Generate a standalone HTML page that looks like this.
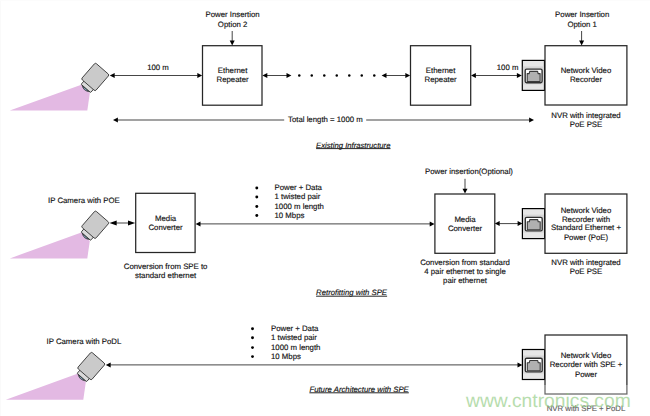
<!DOCTYPE html>
<html>
<head>
<meta charset="utf-8">
<title>SPE Architecture</title>
<style>
html,body{margin:0;padding:0;background:#fff;}
body{width:650px;height:416px;overflow:hidden;}
svg{display:block;}
text{font-family:"Liberation Sans",sans-serif;font-size:7.8px;fill:#121212;stroke:#121212;stroke-width:0.15px;text-rendering:geometricPrecision;}
.c{text-anchor:middle;}
.t{font-style:italic;font-size:7.7px;}
.ul{stroke:#1a1a1a;stroke-width:0.95;}
.box{fill:#fff;stroke:#262626;stroke-width:1.25;}
.ln{stroke:#3c3c3c;stroke-width:0.95;fill:none;}
.ah{fill:#000;}
.wm{font-size:19.25px;fill:#8cc97c;opacity:0.62;stroke:none;}
</style>
</head>
<body>
<svg width="650" height="416" viewBox="0 0 650 416">
<defs>
  <g id="cam">
    <polygon points="-99.5,35.4 -22,35.4 -19.5,18 -28,9.5" fill="#e3b9e3"/>
    <g transform="translate(0,-0.3) rotate(41)">
      <path d="M-14.2,25.4 Q-8.8,29.6 -3.4,25.4 Z" fill="#3c4a52" stroke="#2a2a2a" stroke-width="0.5"/>
      <path d="M-11.6,26 Q-8.8,27.8 -6,26 Z" fill="#8fb8cc"/>
      <rect x="-15.1" y="20" width="12.6" height="5.6" rx="0.7" fill="#dadada" stroke="#2a2a2a" stroke-width="0.8"/>
      <rect x="-18.5" y="0" width="18.5" height="21.5" rx="1.5" fill="#cacaca" stroke="#333" stroke-width="0.85"/>
    </g>
  </g>
  <g id="port">
    <rect x="0" y="0" width="22.2" height="30" fill="#e6e6e6" stroke="#000" stroke-width="1.2"/>
    <rect x="0.6" y="6" width="21" height="18" fill="#d6d6d6"/>
    <rect x="2.9" y="8.7" width="16.9" height="13.6" rx="1.4" fill="#fff" stroke="#2e2e2e" stroke-width="1.35"/>
    <path d="M4.9,21.2 V13.2 H6.9 L7.4,11 H15.3 L15.8,13.2 H17.8 V21.2 Z" fill="#b0b0b0" stroke="#3a3a3a" stroke-width="1.1" stroke-linejoin="round"/>
  </g>
</defs>
<rect x="0" y="0" width="1" height="416" fill="#fafafa"/><rect x="0" y="0" width="650" height="1" fill="#fcfcfc"/>
<!-- Existing infrastructure -->
<use href="#cam" x="109.3" y="75.2"/>
<line class="ln" x1="114.20" y1="75.5" x2="197.80" y2="75.5"/>
<polygon class="ah" points="109.8,75.5 114.70,73.00 114.70,78.00"/>
<polygon class="ah" points="202.2,75.5 197.30,73.00 197.30,78.00"/>
<text class="c" x="158" y="70">100 m</text>
<rect class="box" x="202.5" y="45.7" width="59.5" height="59.5"/>
<text class="c" x="232.6" y="72.6">Ethernet</text>
<text class="c" x="232.6" y="81.8">Repeater</text>
<text class="c" x="232.6" y="17.4">Power Insertion</text>
<text class="c" x="232.6" y="27">Option 2</text>
<line class="ln" x1="232.2" y1="31" x2="232.2" y2="41.00"/>
<polygon class="ah" points="232.2,45.4 229.70,40.50 234.70,40.50"/>
<line class="ln" x1="266.80" y1="75.5" x2="287.00" y2="75.5"/>
<polygon class="ah" points="262.4,75.5 267.30,73.00 267.30,78.00"/>
<polygon class="ah" points="291.4,75.5 286.50,73.00 286.50,78.00"/>
<g fill="#000"><circle cx="299.25" cy="75.5" r="1.25"/><circle cx="311.75" cy="75.5" r="1.25"/><circle cx="324.25" cy="75.5" r="1.25"/><circle cx="336.75" cy="75.5" r="1.25"/><circle cx="349.25" cy="75.5" r="1.25"/><circle cx="361.75" cy="75.5" r="1.25"/><circle cx="374.25" cy="75.5" r="1.25"/></g>
<line class="ln" x1="386.00" y1="75.5" x2="405.80" y2="75.5"/>
<polygon class="ah" points="381.6,75.5 386.50,73.00 386.50,78.00"/>
<polygon class="ah" points="410.2,75.5 405.30,73.00 405.30,78.00"/>
<rect class="box" x="410.5" y="45.7" width="60.2" height="59.5"/>
<text class="c" x="440.6" y="72.6">Ethernet</text>
<text class="c" x="440.6" y="81.8">Repeater</text>
<line class="ln" x1="475.40" y1="75.5" x2="517.40" y2="75.5"/>
<polygon class="ah" points="471,75.5 475.90,73.00 475.90,78.00"/>
<polygon class="ah" points="521.8,75.5 516.90,73.00 516.90,78.00"/>
<text class="c" x="507.6" y="70">100 m</text>
<use href="#port" x="522.3" y="60.4"/>
<rect class="box" x="545" y="45.7" width="81.9" height="59.3"/>
<text class="c" x="586" y="72.6">Network Video</text>
<text class="c" x="586" y="81.8">Recorder</text>
<text class="c" x="582.2" y="17.4">Power Insertion</text>
<text class="c" x="582.2" y="27">Option 1</text>
<line class="ln" x1="581.6" y1="31" x2="581.6" y2="41.00"/>
<polygon class="ah" points="581.6,45.4 579.10,40.50 584.10,40.50"/>
<text class="c" x="586" y="117.9">NVR with integrated</text>
<text class="c" x="586" y="127">PoE PSE</text>
<line class="ln" x1="117.40" y1="120.0" x2="284.20" y2="120.0"/>
<polygon class="ah" points="113,120.0 117.90,117.50 117.90,122.50"/>
<line class="ln" x1="366.20" y1="120.0" x2="529.60" y2="120.0"/>
<polygon class="ah" points="534,120.0 529.10,117.50 529.10,122.50"/>
<text x="288" y="122">Total length = 1000 m</text>
<text class="t" x="316.1" y="148.1">Existing Infrastructure</text>
<line class="ul" x1="316.1" y1="148.60" x2="390.50" y2="148.60"/>
<!-- Retrofitting with SPE -->
<text x="48" y="203">IP Camera with POE</text>
<use href="#cam" x="109.3" y="223"/>
<line class="ln" x1="116.20" y1="223.0" x2="128.50" y2="223.0"/>
<polygon class="ah" points="109.5,223.0 116.70,220.50 116.70,225.50"/>
<polygon class="ah" points="135.2,223.0 128.00,220.50 128.00,225.50"/>
<rect class="box" x="135.7" y="193.3" width="59.4" height="59.2"/>
<text class="c" x="165.6" y="221">Media</text>
<text class="c" x="165.6" y="230">Converter</text>
<text class="c" x="165.6" y="269">Conversion from SPE to</text>
<text class="c" x="165.6" y="278">standard ethernet</text>
<line class="ln" x1="200.00" y1="223.9" x2="430.20" y2="223.9"/>
<polygon class="ah" points="195.6,223.9 200.50,221.40 200.50,226.40"/>
<polygon class="ah" points="434.6,223.9 429.70,221.40 429.70,226.40"/>
<g fill="#000"><circle cx="256.8" cy="188" r="1.45"/><circle cx="256.8" cy="197" r="1.45"/><circle cx="256.8" cy="206.5" r="1.45"/><circle cx="256.8" cy="215.5" r="1.45"/></g>
<text x="274.5" y="190">Power + Data</text>
<text x="274.5" y="199">1 twisted pair</text>
<text x="274.5" y="209">1000 m length</text>
<text x="274.5" y="218.2">10 Mbps</text>
<text x="425" y="174.3">Power insertion(Optional)</text>
<line class="ln" x1="465" y1="178.8" x2="465" y2="189.20"/>
<polygon class="ah" points="465,193.6 462.50,188.70 467.50,188.70"/>
<rect class="box" x="434.9" y="194" width="59.9" height="59.3"/>
<text class="c" x="465" y="221.5">Media</text>
<text class="c" x="465" y="230.5">Converter</text>
<text class="c" x="465" y="264.5">Conversion from standard</text>
<text class="c" x="465" y="274">4 pair ethernet to single</text>
<text class="c" x="465" y="283">pair ethernet</text>
<line class="ln" x1="499.20" y1="223.6" x2="518.10" y2="223.6"/>
<polygon class="ah" points="494.8,223.6 499.70,221.10 499.70,226.10"/>
<polygon class="ah" points="522.5,223.6 517.60,221.10 517.60,226.10"/>
<use href="#port" x="522.4" y="208.6"/>
<rect class="box" x="545" y="194" width="81.9" height="59.3"/>
<text class="c" x="586" y="212.5">Network Video</text>
<text class="c" x="586" y="221.5">Recorder with</text>
<text class="c" x="586" y="230">Standard Ethernet +</text>
<text class="c" x="586" y="240">Power (PoE)</text>
<text class="c" x="586" y="264.6">NVR with integrated</text>
<text class="c" x="586" y="273.8">PoE PSE</text>
<text class="t" x="316.1" y="295.2" style="font-size:7.74px">Retrofitting with SPE</text>
<line class="ul" x1="316.1" y1="296.20" x2="387.10" y2="296.20"/>
<!-- Future architecture with SPE -->
<text x="46.5" y="343.8">IP Camera with PoDL</text>
<use href="#cam" x="105.3" y="364.3"/>
<line class="ln" x1="110.20" y1="364.9" x2="518.00" y2="364.9"/>
<polygon class="ah" points="105.8,364.9 110.70,362.40 110.70,367.40"/>
<polygon class="ah" points="522.4,364.9 517.50,362.40 517.50,367.40"/>
<g fill="#000"><circle cx="252.5" cy="328.7" r="1.45"/><circle cx="252.5" cy="337.8" r="1.45"/><circle cx="252.5" cy="347.6" r="1.45"/><circle cx="252.5" cy="356.6" r="1.45"/></g>
<text x="271" y="331.3">Power + Data</text>
<text x="271" y="339.8">1 twisted pair</text>
<text x="271" y="350.2">1000 m length</text>
<text x="271" y="359">10 Mbps</text>
<use href="#port" x="522.4" y="349.5"/>
<rect class="box" x="545" y="335" width="81.9" height="59"/>
<text class="c" x="586" y="357.8">Network Video</text>
<text class="c" x="586" y="367.4">Recorder with SPE +</text>
<text class="c" x="586" y="377">Power</text>
<text class="t" x="309.4" y="391.8" style="font-size:7.77px">Future Architecture with SPE</text>
<line class="ul" x1="309.4" y1="392.80" x2="408.80" y2="392.80"/>
<text class="c" x="586" y="410.8">NVR with SPE + PoDL</text>
<rect x="460" y="385" width="178" height="31" fill="#fff" fill-opacity="0.3"/>
<text class="wm" x="466" y="406.8">www.cntronics.com</text>
</svg>
</body>
</html>
